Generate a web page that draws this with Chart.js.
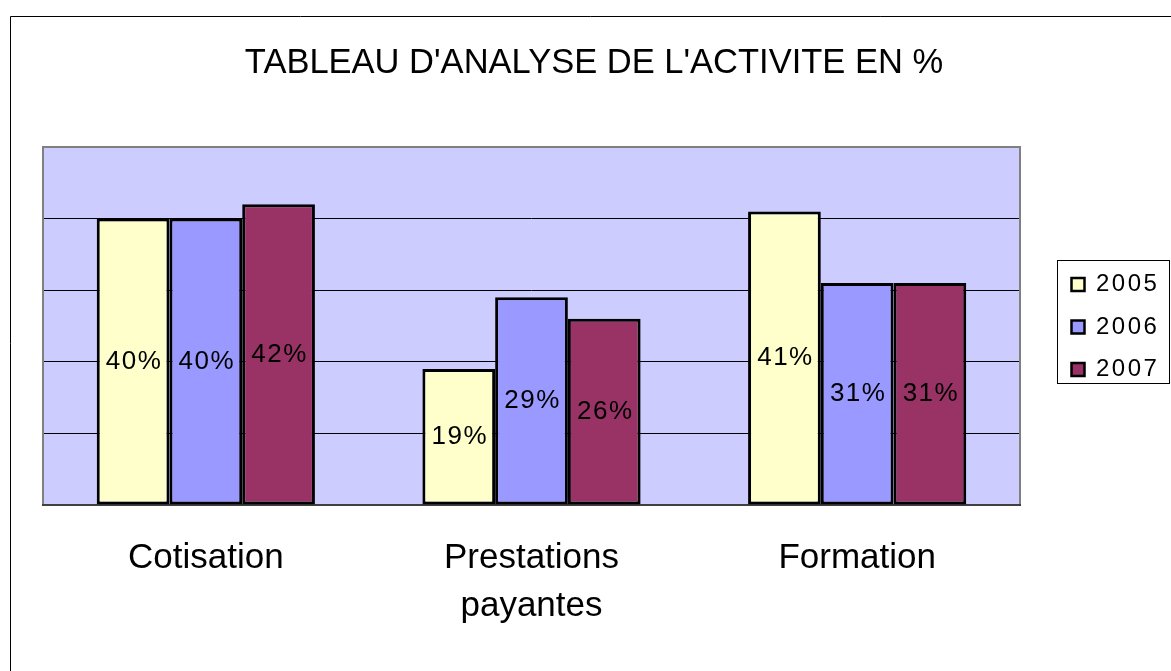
<!DOCTYPE html>
<html>
<head>
<meta charset="utf-8">
<title>Tableau d'analyse de l'activité</title>
<script src="https://cdn.jsdelivr.net/npm/chart.js@4/dist/chart.umd.min.js"></script>
<style>
    html, body { margin: 0; padding: 0; background: #ffffff; }
    #chart { display: block; }
</style>
</head>
<body>
<canvas id="chart" width="1171" height="671"></canvas>
<script>
// Chart data
const chartTitle = "TABLEAU D'ANALYSE DE L'ACTIVITE EN %";
const categories = ['Cotisation', ['Prestations', 'payantes'], 'Formation'];
const years = ['2005', '2006', '2007'];
const values2005 = [40, 19, 41];
const values2006 = [40, 29, 31];
const values2007 = [42, 26, 31];
const yMin = 0;
const yMax = 50;
const yStep = 10;

const seriesColors = ['#FFFFCC', '#9999FF', '#993366'];
const FONT = '"Liberation Sans", Arial, sans-serif';

// Background, outer frame and plot area fill
const frameBackground = {
    id: 'frameBackground',
    beforeDraw: function(chart) {
        const ctx = chart.ctx;
        const area = chart.chartArea;
        ctx.save();
        ctx.fillStyle = '#ffffff';
        ctx.fillRect(0, 0, chart.width, chart.height);

        ctx.strokeStyle = '#000000';
        ctx.lineWidth = 1;
        ctx.beginPath();
        ctx.moveTo(10.5, chart.height);
        ctx.lineTo(10.5, 16.5);
        ctx.lineTo(chart.width, 16.5);
        ctx.stroke();

        ctx.fillStyle = '#CCCCFF';
        ctx.fillRect(area.left, area.top, area.right - area.left, area.bottom - area.top);
        ctx.restore();
    },
    beforeDatasetsDraw: function(chart) {
        const ctx = chart.ctx;
        const area = chart.chartArea;
        ctx.save();
        ctx.strokeStyle = '#808080';
        ctx.lineWidth = 2;
        ctx.strokeRect(area.left, area.top, area.right - area.left, area.bottom - area.top);
        ctx.strokeStyle = '#404040';
        ctx.beginPath();
        ctx.moveTo(area.left - 1, area.bottom);
        ctx.lineTo(area.right + 1, area.bottom);
        ctx.stroke();
        ctx.restore();
    }
};

// Title, value labels and legend box
const chartDecorations = {
    id: 'chartDecorations',
    afterDatasetsDraw: function(chart) {
        const ctx = chart.ctx;
        ctx.save();
        ctx.font = '26px ' + FONT;
        ctx.fillStyle = '#000000';
        ctx.textAlign = 'center';
        ctx.textBaseline = 'middle';
        if ('letterSpacing' in ctx) {
            ctx.letterSpacing = '1.5px';
        }
        chart.data.datasets.forEach(function(dataset, i) {
            const meta = chart.getDatasetMeta(i);
            meta.data.forEach(function(bar, j) {
                const midY = (bar.y + bar.base) / 2;
                ctx.fillText(dataset.data[j] + '%', bar.x + 1, midY);
            });
        });
        ctx.restore();
    },
    afterDraw: function(chart) {
        const ctx = chart.ctx;
        ctx.save();

        // Title
        ctx.font = '34.5px ' + FONT;
        ctx.fillStyle = '#000000';
        ctx.textAlign = 'center';
        ctx.textBaseline = 'alphabetic';
        ctx.fillText(chartTitle, 594, 73);

        // Legend
        ctx.strokeStyle = '#000000';
        ctx.lineWidth = 1;
        ctx.strokeRect(1057.5, 260.5, 112, 123);
        ctx.font = '24px ' + FONT;
        ctx.textAlign = 'left';
        ctx.textBaseline = 'middle';
        if ('letterSpacing' in ctx) {
            ctx.letterSpacing = '2.5px';
        }
        chart.data.datasets.forEach(function(dataset, i) {
            const cy = 284.5 + i * 42.5;
            ctx.fillStyle = dataset.backgroundColor;
            ctx.fillRect(1071.5, cy - 6.5, 13, 13);
            ctx.lineWidth = 2.5;
            ctx.strokeRect(1071.5, cy - 6.5, 13, 13);
            ctx.fillStyle = '#000000';
            ctx.fillText(dataset.label, 1096, cy);
        });
        ctx.restore();
    }
};

const ctx = document.getElementById('chart').getContext('2d');

new Chart(ctx, {
    type: 'bar',
    data: {
        labels: categories,
        datasets: [
            { label: years[0], data: values2005, backgroundColor: seriesColors[0] },
            { label: years[1], data: values2006, backgroundColor: seriesColors[1] },
            { label: years[2], data: values2007, backgroundColor: seriesColors[2] }
        ].map(function(ds) {
            return Object.assign(ds, {
                borderColor: '#000000',
                borderWidth: 3,
                borderSkipped: false,
                categoryPercentage: 0.67,
                barPercentage: 1.0
            });
        })
    },
    options: {
        responsive: false,
        animation: false,
        devicePixelRatio: 1,
        layout: {
            padding: { left: 43, right: 151, top: 147, bottom: 0 }
        },
        plugins: {
            legend: { display: false },
            title: { display: false },
            tooltip: { enabled: false }
        },
        scales: {
            x: {
                grid: { display: false, drawTicks: false },
                border: { display: false },
                ticks: {
                    color: '#000000',
                    padding: 29,
                    maxRotation: 0,
                    font: { family: FONT, size: 35, lineHeight: 1.371 }
                },
                afterFit: function(scale) {
                    scale.height = 166;
                }
            },
            y: {
                min: yMin,
                max: yMax,
                ticks: { display: false, stepSize: yStep },
                grid: { color: '#000000', lineWidth: 1, drawTicks: false },
                border: { display: false },
                afterFit: function(scale) {
                    scale.width = 0;
                }
            }
        }
    },
    plugins: [frameBackground, chartDecorations]
});
</script>
</body>
</html>
